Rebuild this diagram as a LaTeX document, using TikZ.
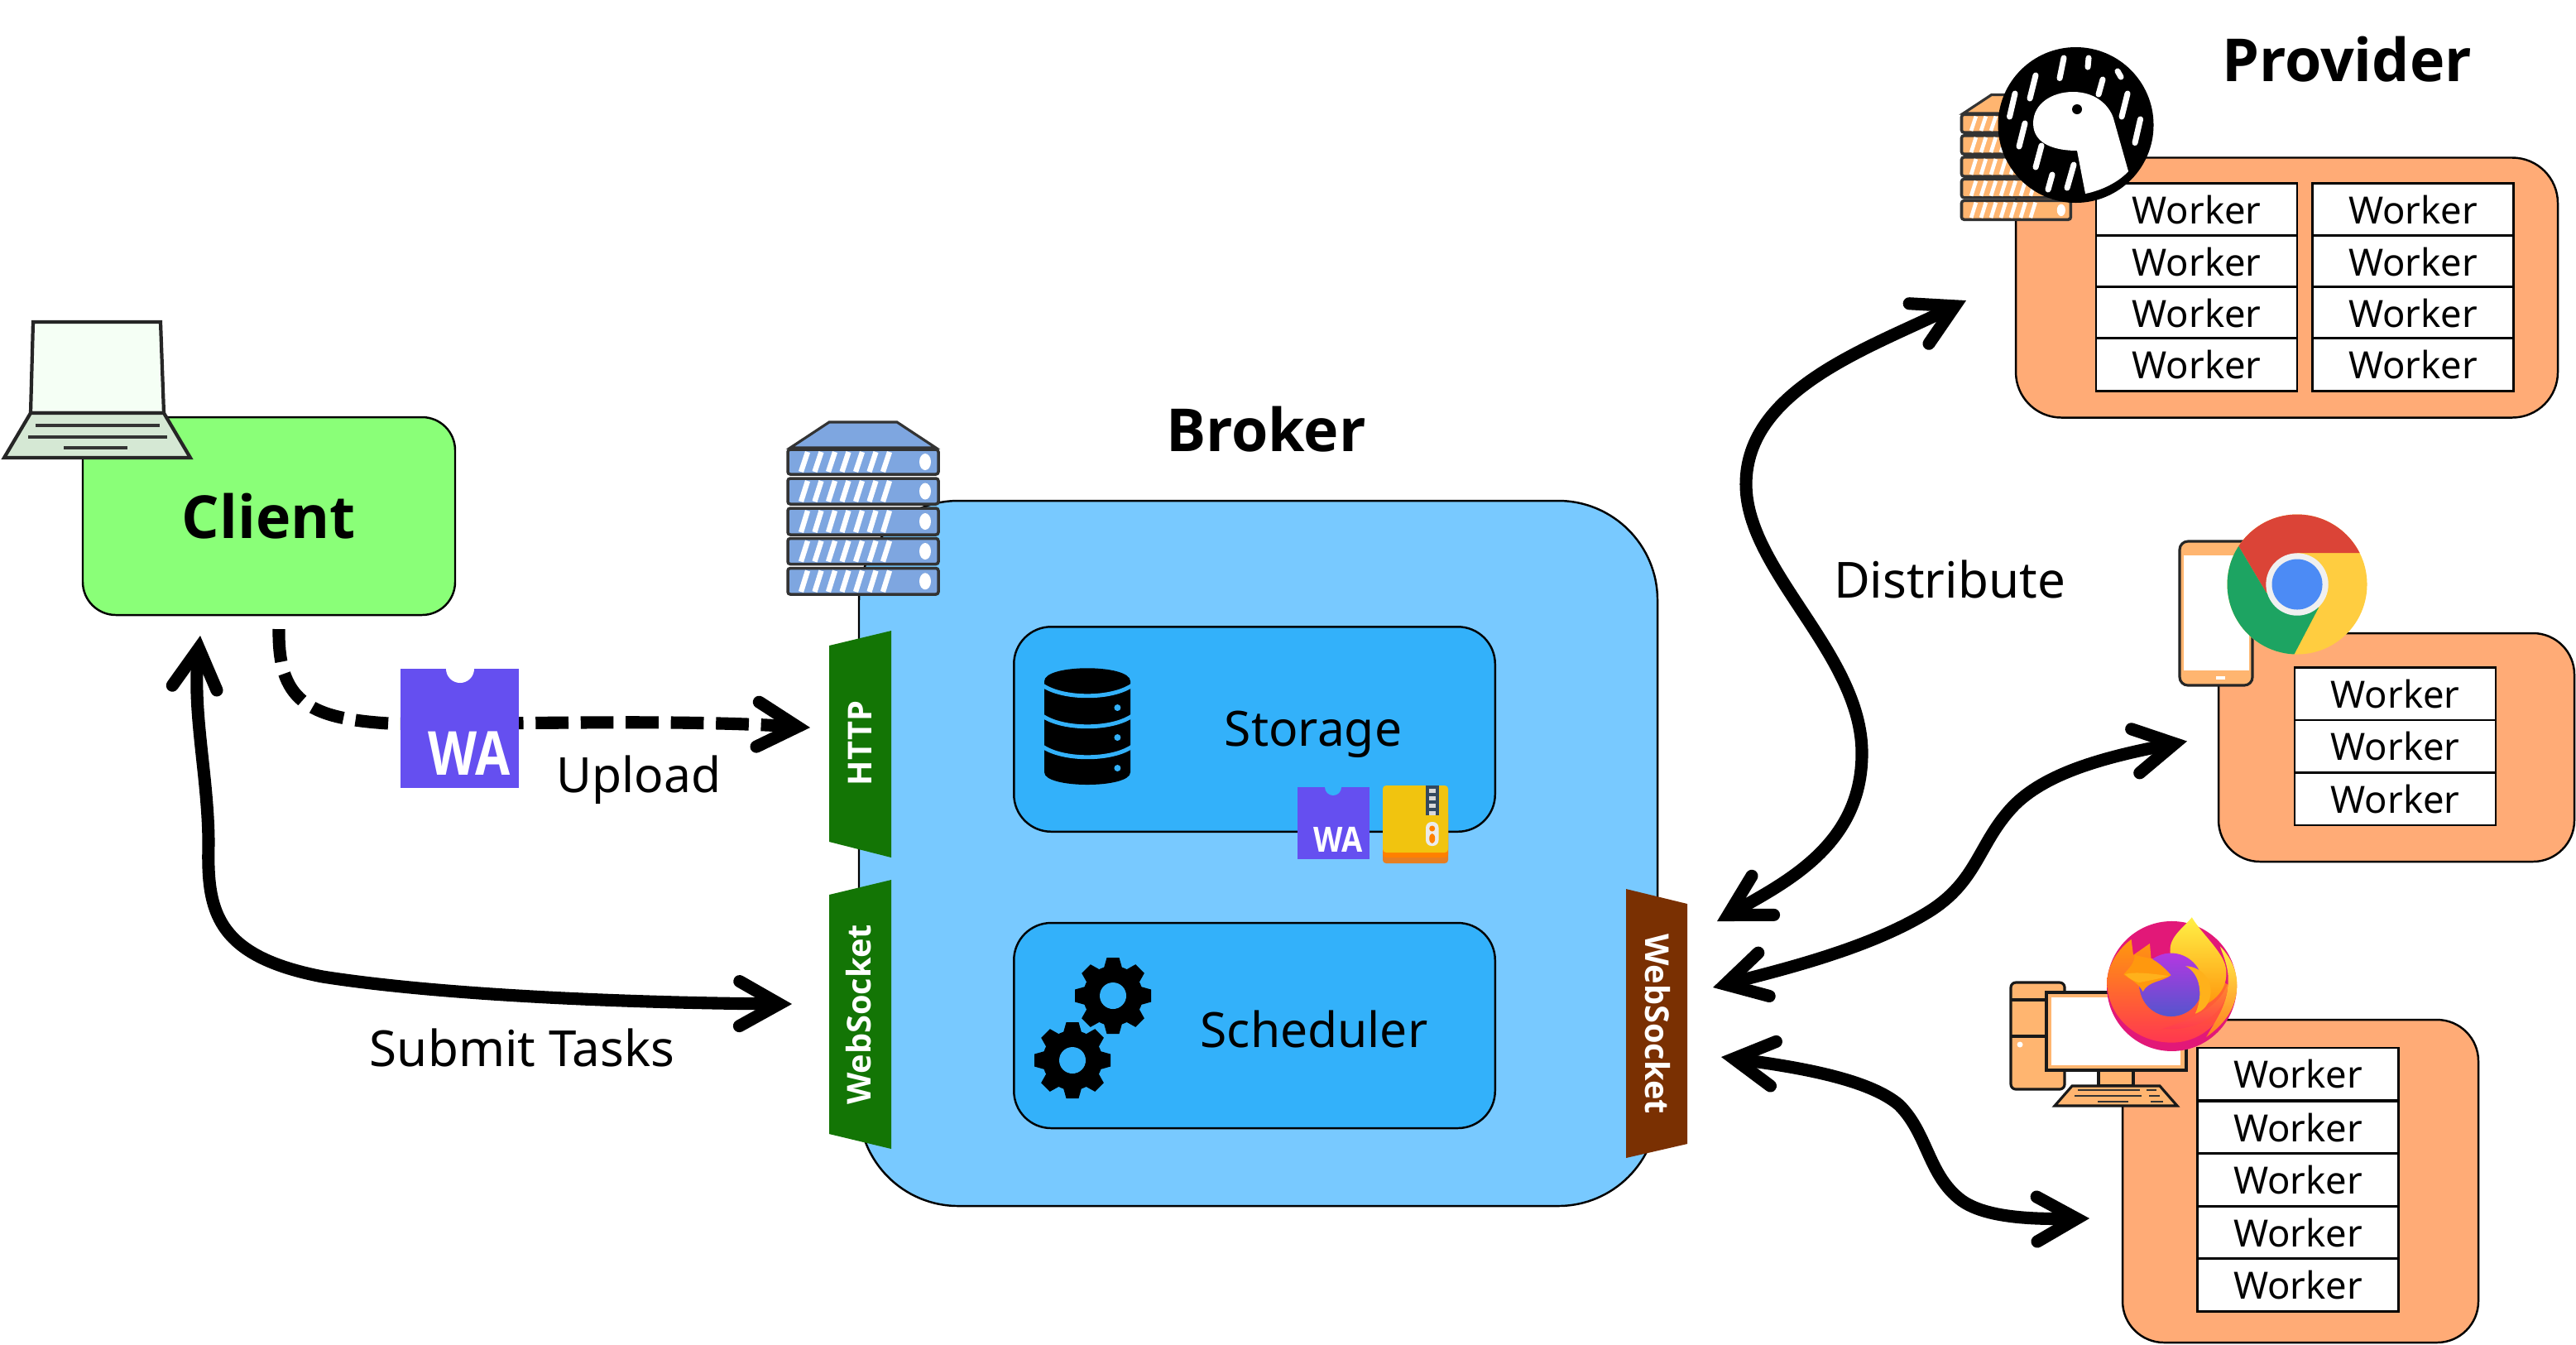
\documentclass[tikz,border=0pt]{standalone}
\usepackage{fontspec}
\setmainfont{Noto Sans}
\newfontfamily\headfont{Open Sans}
\usetikzlibrary{arrows.meta, positioning, shapes.geometric}
\definecolor{clientgreen}{RGB}{138,255,120}
\definecolor{brokerblue}{RGB}{120,201,255}
\definecolor{storeblue}{RGB}{51,177,250}
\definecolor{provorange}{RGB}{255,171,118}
\definecolor{iconorange}{RGB}{255,181,112}
\definecolor{serverblue}{RGB}{126,166,224}
\definecolor{tabgreen}{RGB}{19,117,5}
\definecolor{tabbrown}{RGB}{122,48,2}
\definecolor{wasmviolet}{RGB}{101,79,240}
\definecolor{laptopgreen}{RGB}{213,232,212}
\definecolor{chromered}{RGB}{219,68,55}
\definecolor{chromegreen}{RGB}{29,164,98}
\definecolor{chromeyellow}{RGB}{255,205,64}
\definecolor{chromeblue}{RGB}{76,139,245}
\definecolor{zipyellow}{RGB}{241,196,15}
\definecolor{ziporange}{RGB}{230,126,34}
\definecolor{zipdark}{RGB}{52,73,94}
\definecolor{foxmagenta}{RGB}{226,24,120}
\definecolor{foxorange}{RGB}{255,152,14}
\definecolor{foxred}{RGB}{255,55,80}
\definecolor{foxyellow}{RGB}{255,240,70}
\definecolor{foxgold}{RGB}{255,177,27}
\definecolor{foxpurple}{RGB}{180,55,225}
\definecolor{foxindigo}{RGB}{85,85,205}
\tikzset{
  box/.style={draw=black, line width=0.7pt, inner sep=0pt},
  worker/.style={draw=black, line width=0.8pt, fill=white, inner sep=0pt, minimum width=2.43cm, minimum height=0.635cm, font=\fontsize{12.9}{14}\selectfont},
  title/.style={inner sep=0pt, font=\fontsize{20.4}{22}\selectfont\headfont\bfseries},
  label/.style={inner sep=0pt, font=\fontsize{16.7}{18}\selectfont},
  tabtext/.style={inner sep=0pt, text=white, font=\fontsize{11.3}{13}\selectfont\headfont\bfseries},
  flow/.style={line width=4.3pt, black, >={Straight Barb[length=4.8mm, width=5.4mm, line cap=round, line join=miter]}},
  pics/server/.style n args={2}{code={
    \fill[#1, draw=black!80, line width=0.9pt] (0.05,0.33) -- (0.52,0.02) -- (1.34,0.02) -- (1.81,0.33) -- cycle;
    \foreach \t/\b in {0.35/0.65, 0.70/1.01, 1.06/1.38, 1.425/1.735, 1.785/2.10} {
      \fill[#1, draw=black!80, line width=1pt, rounded corners=0.03cm] (0.02,\t) rectangle (1.84,\b);
      \foreach \s in {0,...,6}
        \draw[white, line width=#2] (0.18+\s*0.165,\b-0.03) -- (0.26+\s*0.165,\t+0.03);
      \fill[white] (1.68,{(\t+\b)/2}) ellipse (0.07 and 0.1);
    }
  }},
  pics/gear/.style={code={
    \fill[black] (0,0) circle (0.36);
    \foreach \a in {0,45,...,315}
      \fill[black, rotate=\a] (-0.12,0.3) -- (-0.075,0.46) -- (0.075,0.46) -- (0.12,0.3) -- cycle;
    \fill[storeblue] (0,0) circle (0.16);
  }},
}
\begin{document}
\begin{tikzpicture}[x=1cm, y=-1cm]
\useasboundingbox (0,0) rectangle (31.13,16.24);

% Client
\node[box, title, draw=black, line width=0.7pt, fill=clientgreen, rounded corners=0.4cm, minimum width=4.5cm, minimum height=2.39cm] (client) at (3.25,6.235) {Client};

% Laptop
\draw[fill=green!4, draw=black!85, line width=1.2pt] (0.40,3.89) -- (1.94,3.89) -- (1.98,4.99) -- (0.37,4.99) -- cycle;
\draw[fill=laptopgreen, draw=black!85, line width=1.2pt] (0.37,4.99) -- (1.98,4.99) -- (2.30,5.53) -- (0.05,5.53) -- cycle;
\draw[black!80, line width=1.2pt] (0.43,5.14) -- (1.93,5.14);
\draw[black!80, line width=1.2pt] (0.34,5.28) -- (2.02,5.28);
\draw[black!80, line width=1.2pt] (0.77,5.41) -- (1.54,5.41);

% Broker
\node[box, fill=brokerblue, rounded corners=1.2cm, minimum width=9.65cm, minimum height=8.52cm] (broker) at (15.205,10.31) {};
\node[title] (brokerlabel) at (15.3,5.19) {Broker};
\pic at (9.50,5.08) {server={serverblue}{1.8pt}};

% Storage
\node[box, fill=storeblue, rounded corners=0.45cm, minimum width=5.815cm, minimum height=2.475cm] (storage) at (15.16,8.81) {};
\node[label] (storagelabel) at (15.87,8.87) {Storage};
\fill[black] (12.62,8.23) .. controls (12.62,8.02) and (13.66,8.02) .. (13.66,8.23) -- (13.66,9.33) .. controls (13.66,9.53) and (12.62,9.53) .. (12.62,9.33) -- cycle;
\foreach \y in {8.28,8.65,9.02}
  \draw[storeblue, line width=1.4pt] (12.60,\y) .. controls (12.85,\y+0.17) and (13.43,\y+0.17) .. (13.68,\y);
\foreach \y in {8.55,8.91,9.28}
  \fill[storeblue] (13.504,\y) circle (0.04);

% Small wasm and zip
\fill[wasmviolet] (15.68,9.51) rectangle (16.55,10.38);
\fill[storeblue] (16.11,9.51) circle (0.10);
\node[inner sep=0pt, text=white, yscale=1.15, transform shape, font=\fontsize{10.4}{12}\selectfont\headfont\bfseries] (wasmsmall) at (16.175,10.14) {WA};
\fill[ziporange, rounded corners=0.04cm] (16.71,9.80) rectangle (17.50,10.43);
\fill[orange, rounded corners=0.04cm] (16.71,9.80) rectangle (17.50,10.36);
\fill[zipyellow, rounded corners=0.04cm] (16.71,9.49) rectangle (17.50,10.30);
\fill[zipdark] (17.23,9.49) rectangle (17.385,9.85);
\foreach \y in {9.53,9.62,9.71,9.80}
  \fill[white!85!black] (17.265,\y) rectangle (17.35,\y+0.05);
\fill[white!92!black, rounded corners=0.07cm] (17.23,9.93) rectangle (17.385,10.22);
\fill[orange] (17.307,10.01) circle (0.035);
\fill[orange] (17.307,10.13) ellipse (0.035 and 0.06);

% Scheduler
\node[box, fill=storeblue, rounded corners=0.45cm, minimum width=5.815cm, minimum height=2.48cm] (scheduler) at (15.16,12.39) {};
\node[label] (schedulerlabel) at (15.88,12.43) {Scheduler};
\pic at (13.45,12.03) {gear};
\pic at (12.96,12.81) {gear};

% Tabs on the broker
\fill[tabgreen] (10.02,7.80) -- (10.77,7.62) -- (10.77,10.36) -- (10.02,10.17) -- cycle;
\node[tabtext, rotate=90] (httptab) at (10.39,8.98) {HTTP};
\fill[tabgreen] (10.02,10.81) -- (10.77,10.63) -- (10.77,13.88) -- (10.02,13.70) -- cycle;
\node[tabtext, rotate=90] (wstab) at (10.38,12.26) {WebSocket};
\fill[tabbrown] (19.65,10.74) -- (20.39,10.92) -- (20.39,13.82) -- (19.65,13.99) -- cycle;
\node[tabtext, rotate=-90] (wsright) at (20.03,12.37) {WebSocket};

% Provider
\node[box, fill=provorange, rounded corners=0.55cm, minimum width=6.55cm, minimum height=3.14cm] (provider) at (27.635,3.475) {};
\node[title] (providerlabel) at (28.36,0.72) {Provider};
\foreach \y [count=\i] in {2.531,3.163,3.785,4.405} {
  \node[worker] (provA\i) at (26.545,\y) {Worker};
  \node[worker] (provB\i) at (29.16,\y) {Worker};
}
\pic[scale=0.725] at (23.69,1.13) {server={iconorange}{1.3pt}};

% Deno logo
\fill[black] (25.085,1.51) circle (0.94);
\fill[white] (24.57,1.49) .. controls (24.57,1.25) and (24.80,1.11) .. (25.05,1.11) .. controls (25.35,1.11) and (25.50,1.30) .. (25.54,1.43) -- (25.72,2.07) .. controls (25.60,2.20) and (25.40,2.30) .. (25.20,2.34) -- (25.10,1.82) .. controls (24.85,1.82) and (24.57,1.75) .. (24.57,1.49) -- cycle;
\fill[black] (25.10,1.32) circle (0.06);
\foreach \a/\b/\c/\d in {24.94/0.70/24.89/0.945, 25.24/0.70/25.23/0.81, 25.59/0.86/25.63/0.93, 25.41/0.96/25.36/1.14, 25.71/1.13/25.64/1.41, 25.865/1.44/25.80/1.725, 24.60/0.91/24.53/1.19, 24.35/1.13/24.285/1.41, 24.47/1.49/24.40/1.77, 24.67/1.76/24.60/2.02, 25.06/1.99/24.98/2.27, 24.80/2.11/24.75/2.29}
  \draw[white, line width=2pt, line cap=round] (\a,\b) -- (\c,\d);

% Chrome worker
\node[box, fill=provorange, rounded corners=0.5cm, minimum width=4.3cm, minimum height=2.76cm] (chromebox) at (28.96,9.03) {};
\foreach \y [count=\i] in {8.385,9.017,9.652}
  \node[worker] (chromew\i) at (28.945,\y) {Worker};

% Phone
\draw[fill=iconorange, draw=black!85, line width=0.9pt, rounded corners=0.1cm] (26.34,6.54) rectangle (27.22,8.28);
\fill[white] (26.39,6.71) rectangle (27.18,8.10);
\fill[white] (26.78,8.17) rectangle (26.89,8.21);

% Chrome logo
\begin{scope}
  \clip (27.76,7.06) circle (0.845);
  \fill[chromeyellow] (26.8,6) rectangle (28.7,8);
  \fill[chromered] (27.76,6.68) -- (29,6.68) -- (29,6) -- (26.72,6.04) -- (27.386,7.16) -- cycle;
  \fill[chromegreen] (27.386,7.16) -- (26.72,6.04) -- (26.5,6.04) -- (26.5,8.3) -- (27.58,8.18) -- (28.02,7.34) -- cycle;
\end{scope}
\fill[white!94!black] (27.76,7.06) circle (0.377);
\fill[chromeblue] (27.76,7.06) circle (0.305);

% Firefox worker
\node[box, fill=provorange, rounded corners=0.5cm, minimum width=4.3cm, minimum height=3.9cm] (firefoxbox) at (27.80,14.27) {};
\foreach \y [count=\i] in {12.978,13.62,14.255,14.89,15.525}
  \node[worker] (firefoxw\i) at (27.77,\y) {Worker};

% Desktop
\draw[fill=iconorange, draw=black!90, line width=0.9pt, rounded corners=0.06cm] (24.30,11.87) rectangle (24.95,13.16);
\draw[black!90, line width=0.9pt] (24.30,12.08) -- (24.75,12.08);
\draw[black!90, line width=0.9pt] (24.30,12.52) -- (24.75,12.52);
\fill[white] (24.41,12.62) circle (0.035);
\draw[fill=iconorange, draw=black!90, line width=0.9pt] (24.73,11.99) rectangle (26.42,12.93);
\fill[white] (24.79,12.05) rectangle (26.35,12.87);
\draw[fill=iconorange, draw=black!90, line width=0.9pt] (25.36,12.93) rectangle (25.78,13.12);
\draw[fill=iconorange, draw=black!90, line width=0.9pt] (24.83,13.36) -- (25.04,13.12) -- (26.10,13.12) -- (26.31,13.36) -- cycle;
\draw[black!80, line width=0.7pt] (25.11,13.17) -- (25.86,13.17) (25.94,13.17) -- (26.06,13.17);
\draw[black!80, line width=0.7pt] (25.07,13.24) -- (25.88,13.24) (25.97,13.24) -- (26.10,13.24);
\draw[black!80, line width=0.7pt] (25.35,13.31) -- (25.72,13.31) (25.99,13.31) -- (26.14,13.31);

% Firefox logo
\begin{scope}[shift={(24,10.9)}, x=0.00333cm, y=-0.00333cm]
  \fill[foxmagenta] (675,305) circle (236);
  \shade[top color=foxorange, bottom color=foxred] (440,290) .. controls (440,230) and (480,170) .. (528,135) -- (535,192) -- (595,150) -- (600,205) -- (700,200) -- (880,300) .. controls (880,430) and (780,510) .. (675,510) .. controls (540,510) and (440,410) .. (440,290) -- cycle;
  \shade[top color=foxyellow, bottom color=foxorange!70!foxred] (850,160) .. controls (890,200) and (912,250) .. (912,300) .. controls (912,380) and (870,440) .. (800,490) .. controls (840,420) and (880,370) .. (880,280) .. controls (880,230) and (860,190) .. (850,160) -- cycle;
  \shade[top color=foxyellow, bottom color=foxorange] (670,190) .. controls (660,130) and (710,100) .. (748,55) .. controls (780,110) and (850,170) .. (868,225) .. controls (885,280) and (860,340) .. (800,370) -- cycle;
  \shade[top color=foxgold!70!foxred, bottom color=foxred] (880,290) .. controls (880,400) and (780,470) .. (640,460) .. controls (760,420) and (850,380) .. (880,290) -- cycle;
  \shade[top color=foxpurple, bottom color=foxindigo] (672,300) circle (115);
  \fill[foxgold] (725,232) .. controls (790,235) and (825,290) .. (815,340) .. controls (810,370) and (790,395) .. (760,405) .. controls (790,340) and (780,260) .. (725,232) -- cycle;
  \fill[foxorange] (540,192) -- (600,205) .. controls (630,220) and (660,250) .. (672,265) .. controls (640,290) and (590,285) .. (570,325) .. controls (555,295) and (530,285) .. (500,262) .. controls (520,240) and (540,220) .. (540,192) -- cycle;
  \fill[foxgold] (505,262) .. controls (540,250) and (620,262) .. (665,268) .. controls (620,280) and (590,285) .. (555,292) .. controls (540,288) and (520,278) .. (505,262) -- cycle;
\end{scope}

% Large wasm
\coordinate (clientdash) at (3.37,7.60);
\coordinate (httpend) at (9.79,8.79);
\draw[flow, ->, dash pattern=on 11.3pt off 4.2pt] (clientdash) .. controls (3.36,8.45) and (3.70,8.68) .. (4.70,8.74) .. controls (6.00,8.76) and (8.00,8.68) .. (httpend);
\fill[wasmviolet] (4.84,8.08) rectangle (6.27,9.52);
\fill[white] (5.56,8.08) circle (0.17);
\node[inner sep=0pt, text=white, yscale=1.2, transform shape, font=\fontsize{17.4}{20}\selectfont\headfont\bfseries] (wasmbig) at (5.67,9.10) {WA};
\node[label] (uploadlabel) at (7.72,9.42) {Upload};

% Arrows
\coordinate (clienttip) at (2.42,7.68);
\coordinate (wsleft) at (9.57,12.13);
\draw[flow, <->] (clienttip) .. controls (2.32,8.60) and (2.52,9.40) .. (2.52,10.20) .. controls (2.50,11.00) and (2.60,11.55) .. (3.90,11.80) .. controls (5.50,12.05) and (8.00,12.12) .. (wsleft);
\node[label, font=\fontsize{17.1}{18}\selectfont] (submitlabel) at (6.31,12.66) {Submit Tasks};

\coordinate (provtip) at (23.76,3.63);
\coordinate (brokertop) at (20.75,11.13);
\draw[flow, <->] (provtip) .. controls (22.60,4.20) and (21.10,4.70) .. (21.10,5.85) .. controls (21.10,6.90) and (22.50,7.90) .. (22.50,9.10) .. controls (22.50,10.20) and (21.60,10.65) .. (brokertop);
\node[label, font=\fontsize{17.1}{18}\selectfont] (distlabel) at (23.56,7.00) {Distribute};

\coordinate (chrometip) at (26.43,8.955);
\coordinate (brokermid) at (20.70,11.93);
\draw[flow, <->] (chrometip) .. controls (25.40,9.15) and (24.70,9.35) .. (24.32,9.75) .. controls (23.90,10.20) and (23.90,10.65) .. (23.30,11.02) .. controls (22.60,11.45) and (21.60,11.70) .. (brokermid);

\coordinate (brokerlow) at (20.80,12.77);
\coordinate (firefoxtip) at (25.25,14.72);
\draw[flow, <->] (brokerlow) .. controls (21.80,12.90) and (22.60,13.05) .. (22.95,13.35) .. controls (23.30,13.70) and (23.30,14.20) .. (23.70,14.50) .. controls (24.00,14.72) and (24.60,14.73) .. (firefoxtip);
\end{tikzpicture}
\end{document}
